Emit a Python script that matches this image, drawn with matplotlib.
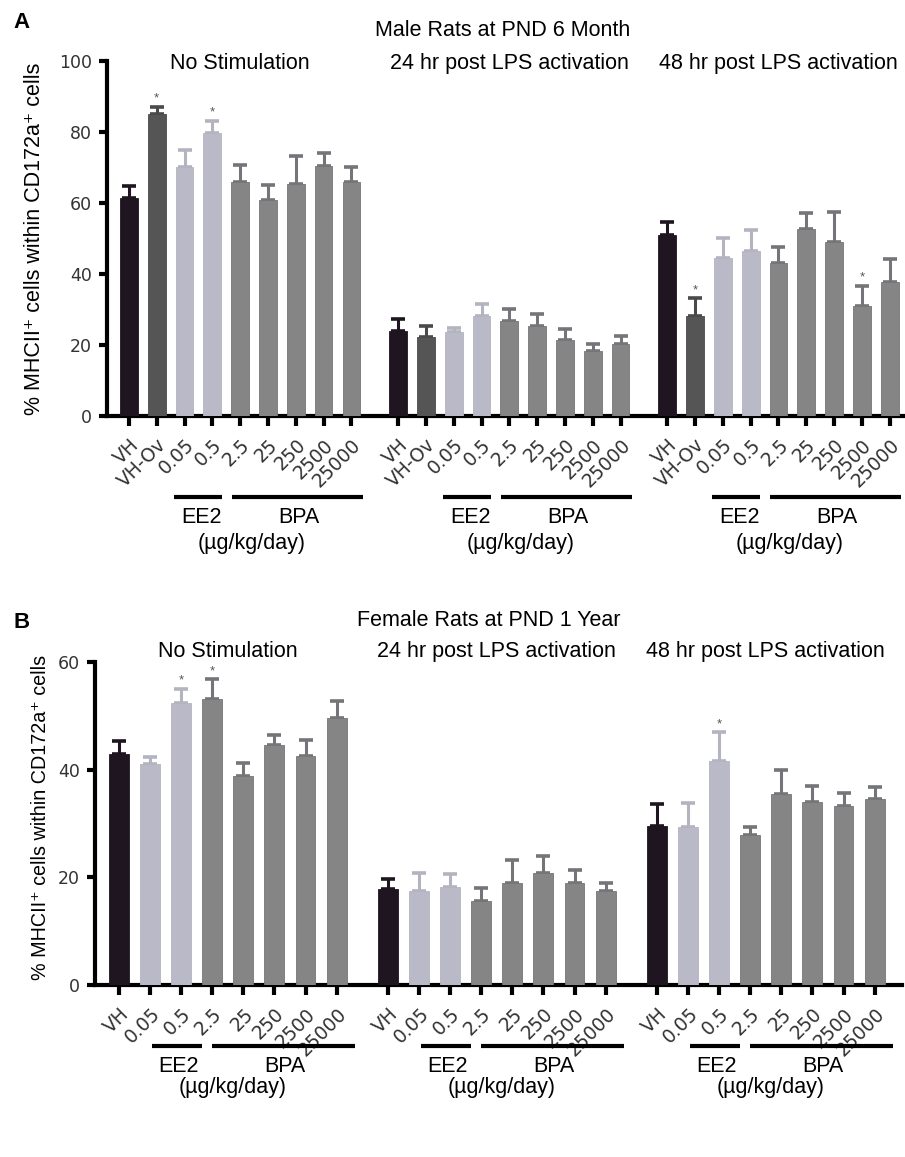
import numpy as np
import matplotlib
matplotlib.use('Agg')
import matplotlib.pyplot as plt
import matplotlib.transforms as mtransforms

plt.rcParams['font.family'] = ['Liberation Sans', 'DejaVu Sans']

## Panel A - male rats at PND 6 month
a_doses = ['VH', 'VH-Ov', '0.05', '0.5', '2.5', '25', '250', '2500', '25000']
a_nostim_mean = [61.5, 85.1, 70.0, 79.8, 66.0, 60.8, 65.4, 70.3, 66.0]
a_nostim_err = [3.4, 2.0, 5.0, 3.4, 4.7, 4.3, 7.8, 3.7, 4.2]
a_24h_mean = [23.9, 22.3, 23.7, 28.2, 26.8, 25.4, 21.4, 18.2, 20.3]
a_24h_err = [3.4, 2.9, 1.1, 3.3, 3.2, 3.3, 3.0, 2.1, 2.1]
a_48h_mean = [50.9, 28.1, 44.4, 46.6, 43.0, 52.8, 49.0, 31.1, 37.8]
a_48h_err = [3.8, 5.0, 5.8, 5.8, 4.7, 4.3, 8.5, 5.5, 6.5]
a_stars = [[1, 3], [], [1, 7]]  # index of dose with * per group

## Panel B - female rats at PND 1 year
b_doses = ['VH', '0.05', '0.5', '2.5', '25', '250', '2500', '25000']
b_nostim_mean = [43.0, 41.1, 52.4, 53.1, 38.9, 44.7, 42.5, 49.6]
b_nostim_err = [2.4, 1.2, 2.7, 3.8, 2.4, 1.7, 3.0, 3.2]
b_24h_mean = [17.9, 17.5, 18.3, 15.6, 18.9, 20.8, 18.9, 17.5]
b_24h_err = [1.8, 3.3, 2.3, 2.4, 4.3, 3.1, 2.4, 1.4]
b_48h_mean = [29.6, 29.3, 41.7, 27.9, 35.5, 34.1, 33.2, 34.5]
b_48h_err = [4.0, 4.5, 5.3, 1.5, 4.5, 2.9, 2.4, 2.3]
b_stars = [[2, 3], [], [2]]

conditions = ['No Stimulation', '24 hr post LPS activation', '48 hr post LPS activation']

# colours
c_vh, c_ov, c_ee2, c_bpa = '#1f1520', '#555555', '#b9b9c8', '#858585'
e_vh, e_ov, e_ee2, e_bpa = '#1f1520', '#4a4a4a', '#b4b4c0', '#737578'
a_colors = [c_vh, c_ov, c_ee2, c_ee2] + [c_bpa] * 5
a_ecolors = [e_vh, e_ov, e_ee2, e_ee2] + [e_bpa] * 5
b_colors = [c_vh, c_ee2, c_ee2] + [c_bpa] * 5
b_ecolors = [e_vh, e_ee2, e_ee2] + [e_bpa] * 5


def draw_panel(ax, doses, means, errs, stars, colors, ecolors, goff, ymax,
               lines, texts, ylab_size, cond_y):
    n = len(doses)
    xpos, xlab = [], []
    blend = mtransforms.blended_transform_factory(ax.transData, ax.transAxes)
    for g in range(3):
        x = np.arange(n) + g * goff
        ax.bar(x, means[g], width=0.64, color=colors, edgecolor=ecolors,
               linewidth=0.6, zorder=3)
        for i in range(n):
            ax.errorbar(x[i], means[g][i], yerr=[[0], [errs[g][i]]], fmt='none',
                        ecolor=ecolors[i], elinewidth=2.2, capsize=4.8,
                        capthick=2.6, zorder=2)
        for i in stars[g]:
            ax.text(x[i], means[g][i] + errs[g][i] + ymax * 0.006, '*',
                    ha='center', va='bottom', fontsize=9.5, color='#555555')
        xpos += list(x)
        xlab += doses
        # group label bars
        (e0, e1), (b0, b1), ly = lines
        ax.plot([g * goff + e0, g * goff + e1], [ly, ly], color='k', lw=3,
                transform=blend, clip_on=False, solid_capstyle='butt')
        ax.plot([g * goff + b0, g * goff + b1], [ly, ly], color='k', lw=3,
                transform=blend, clip_on=False, solid_capstyle='butt')
        (xe, xb, xu, ty, uy) = texts
        ax.text(g * goff + xe, ty, 'EE2', transform=blend, ha='center',
                va='center', fontsize=15.5)
        ax.text(g * goff + xb, ty, 'BPA', transform=blend, ha='center',
                va='center', fontsize=15.5)
        ax.text(g * goff + xu, uy, '(\u00b5g/kg/day)', transform=blend,
                ha='center', va='center', fontsize=15.5)
        ax.text(g * goff + (n - 1) / 2, cond_y, conditions[g], transform=blend,
                ha='center', va='center', fontsize=15.5)

    ax.set_xticks(xpos)
    ax.set_xticklabels(xlab, rotation=45, ha='right', va='top',
                       rotation_mode='anchor', fontsize=13.5,
                       family='DejaVu Sans', color='#333333')
    shift = mtransforms.ScaledTranslation(1.5 / 72, 0, ax.figure.dpi_scale_trans)
    for lab in ax.get_xticklabels():
        lab.set_transform(lab.get_transform() + shift)
    ax.set_ylim(0, ymax)
    ax.set_yticks(np.arange(0, ymax + 1, 20))
    for lab in ax.get_yticklabels():
        lab.set_family('DejaVu Sans')
        lab.set_fontsize(12.5)
        lab.set_color('#333333')
    ax.spines['top'].set_visible(False)
    ax.spines['right'].set_visible(False)
    ax.spines['left'].set_linewidth(3)
    ax.spines['bottom'].set_linewidth(3)
    ax.tick_params(axis='x', length=7, width=3, pad=7)
    ax.tick_params(axis='y', length=6, width=3, pad=5)
    ax.set_ylabel('% MHCII\u207a cells within CD172a\u207a cells',
                  fontsize=ylab_size)


fig = plt.figure(figsize=(9.05, 11.57), dpi=100)

axA = fig.add_axes([107 / 905, 0.6405, 798 / 905, 0.3068])
draw_panel(axA, a_doses, [a_nostim_mean, a_24h_mean, a_48h_mean],
           [a_nostim_err, a_24h_err, a_48h_err], a_stars, a_colors, a_ecolors,
           9.68, 100, ((1.62, 3.35), (3.7, 8.4), -0.228),
           (2.6, 6.1, 4.4, -0.287, -0.358), 15.5, 0.994)
axA.set_xlim(-0.79, 27.91)
axA.yaxis.set_label_coords(-0.078, 0.5)

axB = fig.add_axes([95 / 905, 0.1487, 807 / 905, 0.2789])
draw_panel(axB, b_doses, [b_nostim_mean, b_24h_mean, b_48h_mean],
           [b_nostim_err, b_24h_err, b_48h_err], b_stars, b_colors, b_ecolors,
           8.65, 60, ((1.06, 2.67), (2.99, 7.6), -0.189),
           (1.93, 5.34, 3.67, -0.254, -0.319), 14.2, 1.032)
axB.set_xlim(-0.77, 25.18)
axB.yaxis.set_label_coords(-0.056, 0.52)

fig.text(21 / 905, 1 - 23 / 1157, 'A', fontsize=16, fontweight='bold',
         ha='center', va='center')
fig.text(503 / 905, 1 - 30 / 1157, 'Male Rats at PND 6 Month', fontsize=15.5,
         ha='center', va='center')
fig.text(22 / 905, 1 - 622 / 1157, 'B', fontsize=16, fontweight='bold',
         ha='center', va='center')
fig.text(489 / 905, 1 - 620 / 1157, 'Female Rats at PND 1 Year', fontsize=15.5,
         ha='center', va='center')

plt.savefig('out.png', dpi=100)
